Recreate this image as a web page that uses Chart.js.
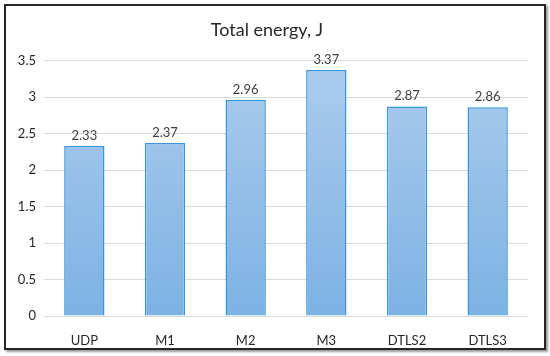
<!DOCTYPE html>
<html>
<head>
<meta charset="utf-8">
<script src="https://cdn.jsdelivr.net/npm/chart.js@4"></script>
<style>
  body { margin: 0; background: #fff; }
  .frame {
    position: absolute; left: 4px; top: 4px;
    width: 538px; height: 342px;
    border: 2px solid #262626;
    box-shadow: 2px 2px 2px #9a9a9a;
    background: #fff;
  }
  canvas { display: block; }
</style>
</head>
<body>
<div class="frame"><canvas id="myChart" width="538" height="342"></canvas></div>
<script>
const categories = ['UDP', 'M1', 'M2', 'M3', 'DTLS2', 'DTLS3'];
const energy = [2.33, 2.37, 2.96, 3.37, 2.87, 2.86];
const yTicks = [0, 0.5, 1, 1.5, 2, 2.5, 3, 3.5];

const fontFamily = "Lato, 'Open Sans', sans-serif";

// value labels above each bar
const valueLabels = {
    id: 'valueLabels',
    afterDatasetsDraw(chart) {
        const ctx = chart.ctx;
        const meta = chart.getDatasetMeta(0);
        ctx.save();
        ctx.font = '13px ' + fontFamily;
        ctx.fillStyle = '#404040';
        ctx.textAlign = 'center';
        ctx.textBaseline = 'bottom';
        meta.data.forEach((bar, i) => {
            ctx.fillText(energy[i].toFixed(2), bar.x, bar.y - 4);
        });
        ctx.restore();
    }
};

function barGradient(context) {
    const area = context.chart.chartArea;
    if (!area) return '#9dc3e6';
    const g = context.chart.ctx.createLinearGradient(0, area.top, 0, area.bottom);
    g.addColorStop(0, '#acccee');
    g.addColorStop(1, '#7cb2e3');
    return g;
}

new Chart(document.getElementById('myChart'), {
    type: 'bar',
    data: {
        labels: categories,
        datasets: [{
            data: energy,
            backgroundColor: barGradient,
            borderColor: '#3a96da',
            borderWidth: 1.5,
            categoryPercentage: 1,
            barPercentage: 0.5
        }]
    },
    options: {
        responsive: false,
        animation: false,
        layout: { padding: { left: 0, right: 16, top: 0, bottom: 0 } },
        plugins: {
            legend: { display: false },
            tooltip: { enabled: false },
            title: {
                display: true,
                text: 'Total energy, J',
                color: '#262626',
                font: { family: fontFamily, size: 18, weight: 'normal' },
                padding: { top: 13, bottom: 20 }
            }
        },
        scales: {
            x: {
                grid: { display: false },
                border: { display: false },
                ticks: {
                    color: '#262626',
                    font: { family: fontFamily, size: 13 },
                    padding: 9
                },
                afterFit(scale) { scale.height = 32; }
            },
            y: {
                min: 0,
                max: 3.5,
                afterBuildTicks(scale) { scale.ticks = yTicks.map(v => ({ value: v })); },
                grid: { color: '#d9d9d9', drawTicks: false },
                border: { display: false },
                ticks: {
                    color: '#262626',
                    font: { family: fontFamily, size: 13 },
                    padding: 8,
                    callback: value => String(value)
                },
                afterFit(scale) { scale.width = 38; }
            }
        }
    },
    plugins: [valueLabels]
});
</script>
</body>
</html>
